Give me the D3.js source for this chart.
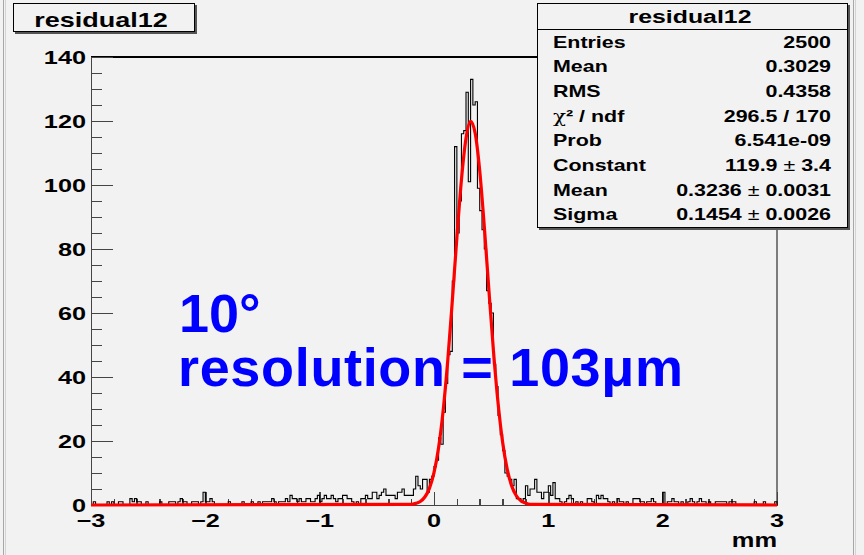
<!DOCTYPE html>
<html lang="en">
<head>
<meta charset="UTF-8"/>
<title>residual12</title>
<script src="https://d3js.org/d3.v7.min.js"></script>
<style>
  body { margin: 0; background: #f2f2f2; }
  text { font-family: "Liberation Sans", Arial, sans-serif; font-weight: bold; fill: #000; }
  .axis path, .axis line { stroke: #444; stroke-width: 1.5px; shape-rendering: crispEdges; }
</style>
</head>
<body>
<div id="chart"></div>
<script>

// histogram counts, 300 bins of 0.02 mm from -3 to 3
var counts = [
  0,1,0,0,0,0,0,1,0,1, 0,0,1,1,0,0,0,2,1,2, 1,1,0,0,1,0,0,0,0,0, 1,0,0,0,1,1,1,0,1,2, 1,1,0,0,1,1,1,0,1,4,
  1,1,2,1,0,0,0,0,0,0, 1,0,0,0,0,0,1,0,0,0, 1,0,0,1,0,1,1,1,1,2, 1,0,1,1,1,2,1,3,2,2, 1,2,1,1,2,2,1,1,2,3,
  1,2,3,2,2,3,2,1,2,2, 3,3,2,2,1,0,1,0,2,2, 3,2,2,4,4,2,3,4,5,3, 3,3,3,2,4,4,5,3,3,3, 3,5,9,6,5,8,8,4,8,9,
  12,14,21,19,29,38,47,48,70,112, 85,95,116,117,129,101,133,125,126,99, 92,86,80,67,63,60,44,37,28,22, 17,10,9,8,6,8,2,2,1,2, 6,3,5,5,8,4,4,2,4,4,
  6,3,7,2,2,1,0,1,2,3, 2,0,1,0,1,0,0,2,2,1, 0,3,2,3,2,2,1,0,1,0, 2,1,1,0,1,0,0,2,2,2, 1,1,0,1,1,2,1,0,0,0,
  4,0,1,1,2,1,1,0,1,0, 0,1,2,1,0,1,2,1,1,0, 1,0,0,1,1,1,1,1,0,1, 1,1,0,0,0,0,0,0,0,0, 1,0,0,0,1,0,0,0,0,1
];
var xMin = -3, xMax = 3, binWidth = 0.02;

// red fit curve
var fitX = [-3, -0.2, -0.16, -0.12, -0.08, -0.04, 0, 0.04, 0.08, 0.12, 0.16, 0.2, 0.24, 0.28, 0.32,
            0.36, 0.4, 0.44, 0.48, 0.52, 0.56, 0.6, 0.64, 0.68, 0.72, 0.76, 0.8, 0.84, 3];
var fitY = [0, 0.2, 0.5, 1.1, 2.5, 5.2, 10.1, 17.9, 29.5, 45.0, 63.7, 83.5, 101.6, 114.6, 119.9,
            116.2, 104.4, 87.0, 67.2, 48.2, 32.0, 19.7, 11.2, 5.9, 2.9, 1.3, 0.6, 0.2, 0];

var xTicks = [-3, -2, -1, 0, 1, 2, 3];
var yTicks = [0, 20, 40, 60, 80, 100, 120, 140];

var statLabels = ["Entries", "Mean", "RMS", "\u03c7\u00b2 / ndf", "Prob", "Constant", "Mean", "Sigma"];
var statValues = ["2500", "0.3029", "0.4358", "296.5 / 170", "6.541e-09", "119.9 \u00b1 3.4", "0.3236 \u00b1 0.0031", "0.1454 \u00b1 0.0026"];

var width = 864, height = 555;
var sx = 1.33;  // the ROOT canvas text is stretched sideways in the picture

var svg = d3.select("#chart").append("svg")
    .attr("width", width)
    .attr("height", height);

svg.append("rect").attr("width", width).attr("height", height).attr("fill", "#f2f2f2");

// pad borders left and right
[3.5, 5.5, 853.5, 855.5].forEach(function(bx, i) {
  svg.append("line").attr("x1", bx).attr("x2", bx).attr("y1", 0).attr("y2", height)
    .attr("stroke", i % 2 ? "#d4d4d4" : "#a8a8a8").attr("stroke-width", 1);
});

var x = d3.scaleLinear().domain([xMin, xMax]).range([91, 777]);
var y = d3.scaleLinear().domain([0, 140]).range([505, 57]);

function stretchText(g, str, tx, ty, size, anchor, s) {
  return g.append("text")
    .attr("transform", "translate(" + tx + "," + ty + ") scale(" + s + ",1)")
    .attr("text-anchor", anchor)
    .style("font-size", size + "px")
    .text(str);
}

// frame: top and right
svg.append("line").attr("x1", x(xMin)).attr("x2", x(xMax)).attr("y1", y(140)).attr("y2", y(140))
  .attr("stroke", "#000").attr("stroke-width", 2);
svg.append("line").attr("x1", x(xMax)).attr("x2", x(xMax)).attr("y1", y(140)).attr("y2", y(0))
  .attr("stroke", "#555").attr("stroke-width", 1.5);

// y axis, ticks pointing into the frame
var yMinor = d3.range(0, 141, 5).filter(function(v) { return v % 20 != 0; });
svg.append("g").attr("class", "axis").attr("transform", "translate(" + x(xMin) + ",0)")
  .call(d3.axisLeft(y).tickValues(yMinor).tickSize(-11).tickSizeOuter(0).tickFormat(""));
var gy = svg.append("g").attr("class", "axis").attr("transform", "translate(" + x(xMin) + ",0)")
  .call(d3.axisLeft(y).tickValues(yTicks).tickSize(-22).tickSizeOuter(0).tickFormat(""));
gy.select(".domain").attr("stroke-width", 2);
yTicks.forEach(function(v) {
  stretchText(svg, d3.format("d")(v), 86, y(v) + 7, 19, "end", sx);
});

// x axis, ticks pointing up
var xMinor = d3.range(-30, 31, 2).filter(function(v) { return v % 10 != 0; }).map(function(v) { return v / 10; });
svg.append("g").attr("class", "axis").attr("transform", "translate(0," + y(0) + ")")
  .call(d3.axisBottom(x).tickValues(xMinor).tickSize(-6).tickSizeOuter(0).tickFormat(""));
var gx = svg.append("g").attr("class", "axis").attr("transform", "translate(0," + y(0) + ")")
  .call(d3.axisBottom(x).tickValues(xTicks).tickSize(-13).tickSizeOuter(0).tickFormat(""));
gx.select(".domain").attr("stroke", "#000").attr("stroke-width", 2);
xTicks.forEach(function(v) {
  stretchText(svg, d3.format("d")(v), x(v), 527, 19, "middle", sx);
});
stretchText(svg, "mm", 777, 547, 20, "end", 1.27);

// histogram as a step outline
var pts = [[xMin, 0]];
counts.forEach(function(c, i) { pts.push([xMin + i * binWidth, c]); });
pts.push([xMax, counts[counts.length - 1]]);
pts.push([xMax, 0]);
var step = d3.line()
  .x(function(d) { return x(d[0]); })
  .y(function(d) { return y(d[1]); })
  .curve(d3.curveStepAfter);
svg.append("path").datum(pts)
  .attr("d", step)
  .attr("fill", "none")
  .attr("stroke", "#000")
  .attr("stroke-width", 1.1);

// fit curve
var fit = d3.line()
  .x(function(d, i) { return x(fitX[i]); })
  .y(function(d) { return y(d); })
  .curve(d3.curveMonotoneX);
svg.append("path").datum(fitY)
  .attr("d", fit)
  .attr("fill", "none")
  .attr("stroke", "#ff0000")
  .attr("stroke-width", 3.2)
  .attr("stroke-linejoin", "round");

// title box
svg.append("rect").attr("x", 15).attr("y", 5).attr("width", 182).attr("height", 29).attr("fill", "#555");
svg.append("rect").attr("x", 13.5).attr("y", 3.5).attr("width", 181).attr("height", 28)
  .attr("fill", "#f2f2f2").attr("stroke", "#000").attr("stroke-width", 1);
stretchText(svg, "residual12", 101, 26.5, 20, "middle", 1.35);

// stats box
svg.append("rect").attr("x", 539).attr("y", 5).attr("width", 311).attr("height", 225).attr("fill", "#555");
svg.append("rect").attr("x", 537.5).attr("y", 3.5).attr("width", 310).attr("height", 224)
  .attr("fill", "#f2f2f2").attr("stroke", "#000").attr("stroke-width", 1);
svg.append("line").attr("x1", 537.5).attr("x2", 847.5).attr("y1", 29.5).attr("y2", 29.5)
  .attr("stroke", "#000").attr("stroke-width", 1);
stretchText(svg, "residual12", 690, 23, 18, "middle", 1.38);

statLabels.forEach(function(lab, i) {
  var by = 47.5 + i * 24.7;
  var t = svg.append("text")
    .attr("transform", "translate(553," + by + ") scale(1.34,1)")
    .style("font-size", "16px");
  if (lab.charAt(0) == "\u03c7") {
    t.append("tspan").style("font-weight", "normal").style("font-family", "'DejaVu Serif', serif").text("\u03c7");
    t.append("tspan").text(lab.slice(1));
  } else {
    t.text(lab);
  }
  var v = svg.append("text")
    .attr("transform", "translate(831," + by + ") scale(1.34,1)")
    .attr("text-anchor", "end")
    .style("font-size", "16px");
  var parts = statValues[i].split("\u00b1");
  v.append("tspan").text(parts[0]);
  if (parts.length > 1) {
    v.append("tspan").style("font-weight", "normal").text("\u00b1");
    v.append("tspan").text(parts[1]);
  }
});

// annotation
svg.append("text").attr("x", 179).attr("y", 332)
  .style("font-size", "54px").style("fill", "#0000ff").text("10\u00b0");
svg.append("text").attr("x", 178).attr("y", 386)
  .style("font-size", "54px").style("fill", "#0000ff")
  .attr("textLength", 505)
  .text("resolution = 103\u03bcm");

</script>
</body>
</html>
